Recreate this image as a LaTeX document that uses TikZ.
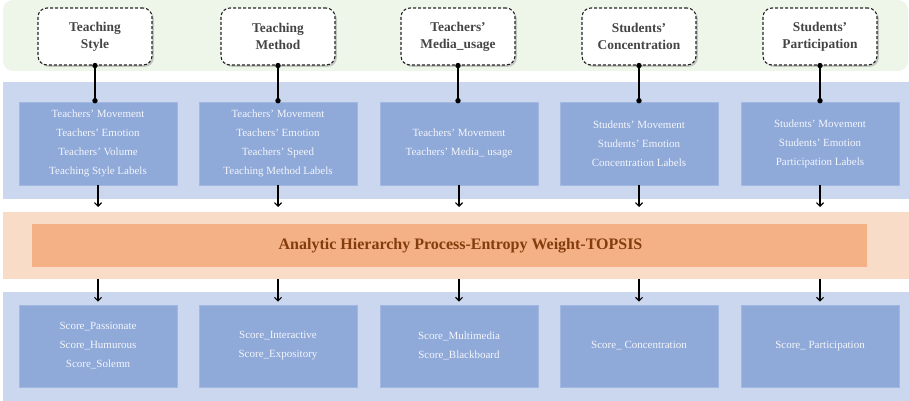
\documentclass[tikz,border=0pt]{standalone}
\usepackage{fontspec}
\setmainfont{Liberation Serif}
\usetikzlibrary{arrows.meta,shadows}

\definecolor{bandgreen}{HTML}{EEF5E9}
\definecolor{bandblue}{HTML}{CBD7EE}
\definecolor{boxblue}{HTML}{8FA9D9}
\definecolor{boxedge}{HTML}{A3B8E0}
\definecolor{bandorange}{HTML}{F9DCC8}
\definecolor{boxorange}{HTML}{F3B185}
\definecolor{titlegray}{HTML}{454545}
\definecolor{ahpbrown}{HTML}{843C0C}
\definecolor{lighttext}{HTML}{F4F6FB}

\begin{document}
\begin{tikzpicture}[x=1pt,y=-1pt,
  band/.style={draw=none, inner sep=0pt, outer sep=0pt, anchor=north west},
  dimbox/.style={draw=black!85, dash pattern=on 3pt off 2pt, line width=1.1pt, rounded corners=9pt,
    fill=white, minimum width=114pt, minimum height=57pt, align=center,
    font=\fontsize{13.4}{17}\selectfont\bfseries, text=titlegray,
    drop shadow={shadow xshift=1.8pt, shadow yshift=-1.8pt, opacity=0.4}},
  infobox/.style={fill=boxblue, draw=boxedge, line width=0.6pt,
    minimum width=158pt, minimum height=83pt, inner sep=0pt, align=center,
    font=\fontsize{11}{19}\selectfont, text=lighttext},
  conn/.style={line width=1.5pt, black},
  flow/.style={line width=1.2pt, black, -{Straight Barb[length=3.5pt,width=7pt]}},
  hub/.style={circle, fill=black, inner sep=0pt, minimum size=5.4pt}
]
\useasboundingbox (0,0) rectangle (909,401);

% background bands
\node[band, fill=bandgreen, rounded corners=10pt, minimum width=905pt, minimum height=71pt] (dimband) at (3,0) {};
\node[band, fill=bandblue, minimum width=906pt, minimum height=117pt] (featband) at (3,82) {};
\node[band, fill=bandorange, minimum width=906pt, minimum height=67pt] (ahpband) at (3,212) {};
\node[band, fill=boxorange, minimum width=835pt, minimum height=43pt] (ahpbox) at (32,224) {};
\node[band, fill=bandblue, minimum width=906pt, minimum height=109pt] (scoreband) at (3,292) {};

\node[font=\fontsize{16}{19}\selectfont\bfseries, text=ahpbrown] (ahptext) at (460.5,245.5)
  {Analytic Hierarchy Process-Entropy Weight-TOPSIS};

% evaluation dimensions
\node[dimbox] (d1) at (95,36.5)  {Teaching\\Style};
\node[dimbox] (d2) at (278,36.5) {Teaching\\Method};
\node[dimbox] (d3) at (458,36.5) {Teachers’\\Media\_usage};
\node[dimbox] (d4) at (639,36.5) {Students’\\Concentration};
\node[dimbox] (d5) at (820,36.5) {Students’\\Participation};

% extracted features
\node[infobox] (f1) at (98,143.5)  {Teachers’ Movement\\Teachers’ Emotion\\Teachers’ Volume\\Teaching Style Labels};
\node[infobox] (f2) at (278,143.5) {Teachers’ Movement\\Teachers’ Emotion\\Teachers’ Speed\\Teaching Method Labels};
\node[infobox] (f3) at (459,143.5) {Teachers’ Movement\\Teachers’ Media\_ usage};
\node[infobox] (f4) at (639,143.5) {Students’ Movement\\Students’ Emotion\\Concentration Labels};
\node[infobox] (f5) at (820,143.5) {Students’ Movement\\Students’ Emotion\\Participation Labels};

% resulting scores
\node[infobox, minimum height=82pt] (s1) at (98,346)  {Score\_Passionate\\Score\_Humurous\\Score\_Solemn};
\node[infobox, minimum height=82pt] (s2) at (278,346) {Score\_Interactive\\Score\_Expository};
\node[infobox, minimum height=82pt] (s3) at (459,346) {Score\_Multimedia\\Score\_Blackboard};
\node[infobox, minimum height=82pt] (s4) at (639,346) {Score\_ Concentration};
\node[infobox, minimum height=82pt] (s5) at (820,346) {Score\_ Participation};

% connectors
\foreach \i in {1,...,5} {
  \draw[conn] (d\i.south) -- ([yshift=1pt]d\i.south |- f\i.north);
  \node[hub] at (d\i.south) {};
  \node[hub] at ([yshift=1pt]d\i.south |- f\i.north) {};
  \draw[flow, shorten >=5pt] (f\i.south) -- (f\i.south |- ahpband.north);
  \draw[flow, shorten >=3pt] (s\i.north |- ahpband.south) -- (s\i.north);
}
\end{tikzpicture}
\end{document}
